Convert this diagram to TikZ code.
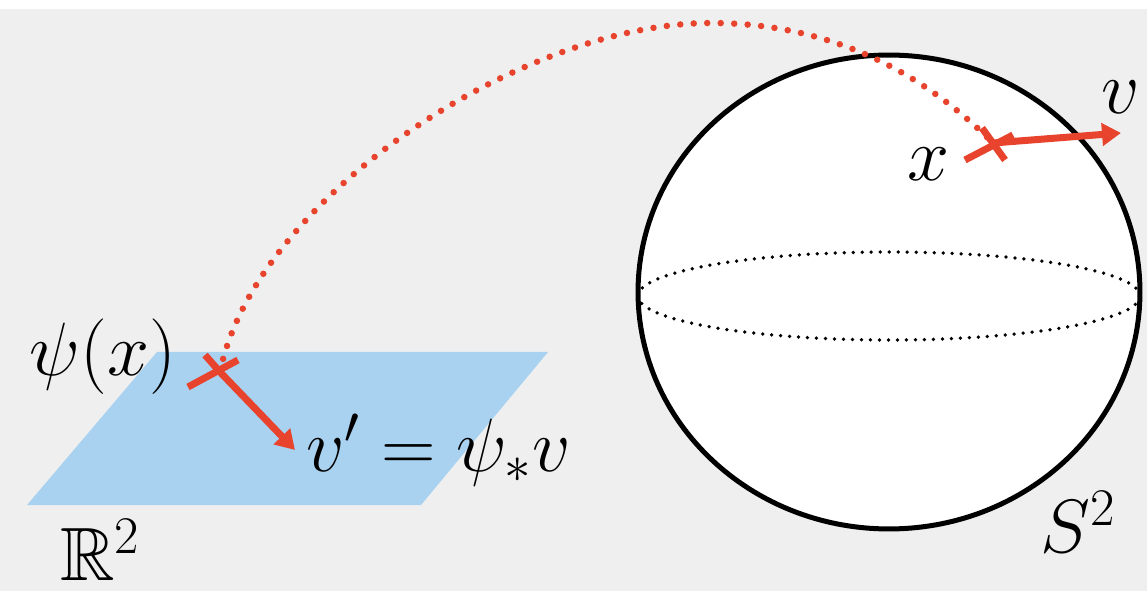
\documentclass[tikz,border=0pt]{standalone}
\usepackage{fix-cm}
\usepackage{amsmath,amssymb}
\usepackage{tikz}
\usetikzlibrary{positioning, arrows.meta}
\definecolor{Paper}{HTML}{EFEFEF}
\definecolor{Crimson}{HTML}{E8432D}
\definecolor{Sky}{HTML}{A9D2F0}

\begin{document}
\begin{tikzpicture}[
    x=0.02cm, y=-0.02cm,
    vec/.style={Crimson, line width=0.14cm, -{Triangle[length=0.38cm, width=0.44cm]}},
    tick/.style={Crimson, line width=0.14cm},
    trail/.style={Crimson, line width=0.13cm, line cap=round, dash pattern=on 0pt off 0.27cm},
    rim/.style={line width=0.1cm, fill=white},
    equator/.style={line width=0.075cm, line cap=round, dash pattern=on 0pt off 0.18cm},
    lbl/.style={inner sep=0pt, font=\fontsize{43}{50}\selectfont}
]

% Background
\fill[white] (0,0) rectangle (1147,591);
\fill[Paper] (0,9) rectangle (1147,591);
\useasboundingbox (0,0) rectangle (1147,591);

% Plane
\fill[Sky] (157,352) -- (548,352) -- (421,505) -- (27,505) -- cycle;

% Sphere
\draw[rim] (889,292) ellipse [x radius=5.02cm, y radius=4.74cm];
\draw[equator] (889,296) ellipse [x radius=5.02cm, y radius=0.88cm];

% Points
\coordinate (psix) at (220,372);
\coordinate (vpend) at (295,450);
\coordinate (xpt) at (993,143);
\coordinate (vend) at (1121,133);

% Chart map
\draw[trail] (psix) .. controls (255,200) and (520,23) .. (711,23)
    .. controls (850,23) and (940,90) .. (xpt);

% Vectors
\draw[vec] (psix) -- (vpend);
\draw[vec] (xpt) -- (vend);

% Crosses
\draw[tick, shift={(psix)}] (-32,15) -- (18,-12);
\draw[tick, shift={(psix)}] (-15,-17) -- (0,0);
\draw[tick, shift={(xpt)}] (-11,-15) -- (12,17);
\draw[tick, shift={(xpt)}] (-28,17) -- (20,-8);

% Labels
\node[lbl] (psilbl) at (103,357) {$\psi(x)$};
\node[lbl, right=0.22cm of vpend] (vplbl) {$v' = \psi_* v$};
\node[lbl] (xlbl) at (929,164) {$x$};
\node[lbl] (vlbl) at (1121,97) {$v$};
\node[lbl] (rlbl) at (100,550) {$\mathbb{R}^2$};
\node[lbl] (slbl) at (1078,522) {$S^2$};

\end{tikzpicture}
\end{document}
